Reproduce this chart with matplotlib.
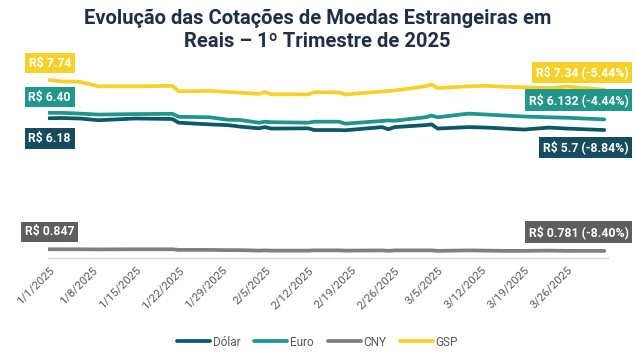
import pandas as pd
import matplotlib
matplotlib.use('Agg')
import matplotlib.pyplot as plt

plt.rcParams['font.family'] = ['Roboto', 'DejaVu Sans']

days = [0, 2, 5, 8, 14, 20, 21, 26, 29, 31, 34, 35, 36, 42, 43, 47, 48,
        54, 55, 56, 61, 62, 63, 68, 71, 74, 77, 81, 84, 90]

dolar = [6.18, 6.19, 6.17, 6.10, 6.17, 6.15, 6.00, 5.93, 5.90, 5.84, 5.77, 5.82,
         5.76, 5.77, 5.70, 5.70, 5.69, 5.82, 5.73, 5.82, 5.90, 5.93, 5.76, 5.82,
         5.80, 5.76, 5.72, 5.80, 5.76, 5.70]
euro = [6.40, 6.40, 6.37, 6.33, 6.35, 6.36, 6.24, 6.22, 6.12, 6.11, 6.00, 6.04,
        6.02, 6.00, 6.04, 6.04, 5.96, 6.07, 6.09, 6.08, 6.22, 6.29, 6.22, 6.37,
        6.33, 6.29, 6.25, 6.22, 6.20, 6.132]
cny = [0.847, 0.845, 0.845, 0.840, 0.845, 0.845, 0.820, 0.820, 0.810, 0.810,
       0.790, 0.800, 0.790, 0.790, 0.800, 0.800, 0.790, 0.800, 0.780, 0.800,
       0.800, 0.800, 0.780, 0.800, 0.790, 0.780, 0.780, 0.790, 0.780, 0.781]
gsp = [7.74, 7.68, 7.66, 7.48, 7.48, 7.50, 7.28, 7.29, 7.25, 7.22, 7.17, 7.25,
       7.16, 7.15, 7.24, 7.23, 7.15, 7.27, 7.29, 7.31, 7.48, 7.55, 7.41, 7.48,
       7.50, 7.46, 7.44, 7.41, 7.47, 7.34]

start_labels = ['R$ 6.18', 'R$ 6.40', 'R$ 0.847', 'R$ 7.74']
end_labels = ['R$ 5.7 (-8.84%)', 'R$ 6.132 (-4.44%)', 'R$ 0.781 (-8.40%)', 'R$ 7.34 (-5.44%)']
names = ['Dólar', 'Euro', 'CNY', 'GSP']

start = pd.Timestamp('2025-01-01')
dates = start + pd.to_timedelta(days, unit='D')

df = pd.DataFrame({'Dólar': dolar, 'Euro': euro, 'CNY': cny, 'GSP': gsp}, index=dates)

colors = {'Dólar': '#0B5866', 'Euro': '#1F958B', 'CNY': '#808080', 'GSP': '#F5D12A'}
box_colors = {'Dólar': '#174B5E', 'Euro': '#23968C', 'CNY': '#5E5E5E', 'GSP': '#F5D12A'}
# label offsets (points) relative to first / last point
start_off = {'Dólar': -14.5, 'Euro': 11.3, 'CNY': 12.5, 'GSP': 12.2}
end_off = {'Dólar': -12.5, 'Euro': 14, 'CNY': 13.5, 'GSP': 12.5}

fig = plt.figure(figsize=(6.35, 3.59), dpi=100)
ax = fig.add_axes([48 / 635, 1 - 258 / 359, 560 / 635, 209 / 359])

for i, name in enumerate(names):
    ax.plot(df.index, df[name], color=colors[name], lw=2.7, label=name,
            solid_capstyle='round', solid_joinstyle='round')
    ax.annotate(start_labels[i], (df.index[0], df[name].iloc[0]),
                xytext=(0.5, start_off[name]), textcoords='offset points',
                ha='center', va='center', fontsize=8.8, fontweight='bold', color='white',
                bbox=dict(boxstyle='square,pad=0.3', fc=box_colors[name], ec='none'),
                annotation_clip=False)
    ax.annotate(end_labels[i], (df.index[-1], df[name].iloc[-1]),
                xytext=(17.5, end_off[name]), textcoords='offset points',
                ha='right', va='center', fontsize=8.8, fontweight='bold', color='white',
                bbox=dict(boxstyle='square,pad=0.3', fc=box_colors[name], ec='none'),
                annotation_clip=False)

ax.set_xlim(start - pd.Timedelta(hours=4), start + pd.Timedelta(days=90.6))
ax.set_ylim(0.49, 9.0)

ticks = pd.date_range(start, periods=13, freq='7D')
ax.set_xticks(ticks)
ax.set_xticklabels([f'{d.month}/{d.day}/{d.year}' for d in ticks], rotation=45,
                   ha='right', va='top', rotation_mode='anchor', fontsize=8.2, color='#595959')
ax.tick_params(axis='x', length=0, pad=5)
ax.set_yticks([])

for s in ['top', 'right', 'left']:
    ax.spines[s].set_visible(False)
ax.spines['bottom'].set_color('#D9D9D9')
ax.spines['bottom'].set_linewidth(1)

fig.text(0.5, 1 - 30 / 359, 'Evolução das Cotações de Moedas Estrangeiras em\nReais – 1º Trimestre de 2025',
         ha='center', va='center', fontsize=14.5, fontweight='bold', color='#1E2F46',
         linespacing=1.3)

fig.legend(loc='center', bbox_to_anchor=(0.5, 1 - 342 / 359), ncol=4, frameon=False,
           fontsize=8.5, handlelength=2.8, columnspacing=1.2, handletextpad=0.2,
           labelcolor='#595959')

fig.savefig('out.png', dpi=100)
